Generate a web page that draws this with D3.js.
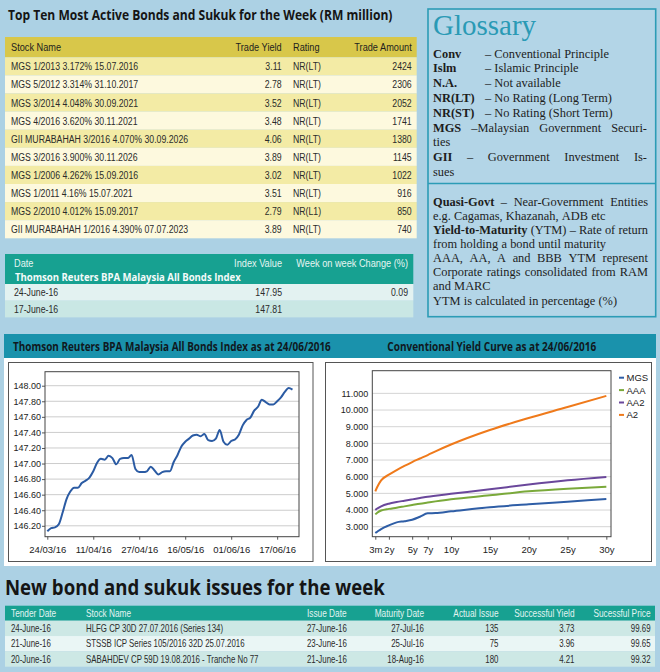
<!DOCTYPE html>
<html><head><meta charset="utf-8">
<script src="https://cdn.jsdelivr.net/npm/d3@7"></script>
<style>html,body{margin:0;padding:0;background:#acd1e4;}svg{display:block}</style>
</head><body><svg id="c" width="660" height="672"></svg>
<script>
// ---------- DATA ----------
const topStocks = ["MGS 1/2013 3.172% 15.07.2016","MGS 5/2012 3.314% 31.10.2017","MGS 3/2014 4.048% 30.09.2021","MGS 4/2016 3.620% 30.11.2021","GII MURABAHAH 3/2016 4.070% 30.09.2026","MGS 3/2016 3.900% 30.11.2026","MGS 1/2006 4.262% 15.09.2016","MGS 1/2011 4.16% 15.07.2021","MGS 2/2010 4.012% 15.09.2017","GII MURABAHAH 1/2016 4.390% 07.07.2023"];
const topYields = ["3.11","2.78","3.52","3.48","4.06","3.89","3.02","3.51","2.79","3.89"];
const topRatings = ["NR(LT)","NR(LT)","NR(LT)","NR(LT)","NR(LT)","NR(LT)","NR(LT)","NR(LT)","NR(L1)","NR(LT)"];
const topAmounts = ["2424","2306","2052","1741","1380","1145","1022","916","850","740"];
const topHeaders = ["Stock Name","Trade Yield","Rating","Trade Amount"];

const indexDates = ["24-June-16","17-June-16"];
const indexValues = ["147.95","147.81"];
const indexChanges = ["0.09",""];

const glossTerms = ["Conv","Islm","N.A.","NR(LT)","NR(ST)"];
const glossDefs = ["– Conventional Principle","– Islamic Principle","– Not available","– No Rating (Long Term)","– No Rating (Short Term)"];

const bpaTickLabels = ["24/03/16","11/04/16","27/04/16","16/05/16","01/06/16","17/06/16"];
const bpaYTicks = [146.2,146.4,146.6,146.8,147.0,147.2,147.4,147.6,147.8,148.0];
const bpaValues = [146.13,146.17,146.18,146.22,146.37,146.54,146.64,146.69,146.69,146.75,
  146.78,146.82,146.90,147.01,147.06,147.05,147.10,147.07,146.99,147.06,
  147.07,147.07,147.11,146.93,146.89,146.89,146.90,146.96,146.91,146.86,
  146.89,146.90,146.90,147.02,147.11,147.22,147.28,147.32,147.36,147.37,
  147.35,147.38,147.30,147.29,147.32,147.43,147.28,147.24,147.29,147.31,
  147.37,147.49,147.56,147.59,147.68,147.73,147.82,147.79,147.76,147.76,
  147.80,147.85,147.92,147.97,147.95];

const tenors = [0.25,0.5,1,2,3,4,5,6,7,8,10,15,20,25,30];
const tenorTicks = [0.25,2,5,7,10,15,20,25,30];
const tenorTickLabels = ["3m","2y","5y","7y","10y","15y","20y","25y","30y"];
const yieldYTicks = [3,4,5,6,7,8,9,10,11];
const seriesNames = ["MGS","AAA","AA2","A2"];
const seriesColors = ["#2f5ea6","#7aa93a","#6a479b","#ef7a1b"];
const mgsYield = [2.62,2.70,2.86,3.08,3.26,3.33,3.42,3.60,3.80,3.82,3.92,4.17,4.34,4.50,4.66];
const aaaYield = [3.74,3.84,3.97,4.07,4.14,4.22,4.30,4.38,4.45,4.52,4.65,4.88,5.12,5.28,5.40];
const aa2Yield = [4.00,4.09,4.22,4.38,4.48,4.56,4.64,4.72,4.80,4.86,4.97,5.24,5.53,5.78,5.98];
const a2Yield  = [5.12,5.38,5.78,6.12,6.40,6.65,6.88,7.09,7.30,7.52,7.93,8.80,9.52,10.18,10.85];

const issueHeaders = ["Tender Date","Stock Name","Issue Date","Maturity Date","Actual Issue","Successful Yield","Sucessful Price"];
const issueTender = ["24-June-16","21-June-16","20-June-16"];
const issueStock = ["HLFG CP 30D 27.07.2016 (Series 134)","STSSB ICP Series 105/2016 32D 25.07.2016","SABAHDEV CP 59D 19.08.2016 - Tranche No 77"];
const issueDate = ["27-June-16","23-June-16","21-June-16"];
const issueMaturity = ["27-Jul-16","25-Jul-16","18-Aug-16"];
const issueActual = ["135","75","180"];
const issueYield = ["3.73","3.96","4.21"];
const issuePrice = ["99.69","99.65","99.32"];

// ---------- HELPERS ----------
const svg = d3.select("#c");
const SANS = "'Liberation Sans', Arial, sans-serif";
const HEAD = "'Open Sans', 'Noto Sans', sans-serif";
const SERIF = "'Liberation Serif', 'Times New Roman', serif";

function nt(p, x, y, s, o = {}) {
  return p.append("text")
    .attr("transform", `translate(${x},${y}) scale(${o.sx || 0.76},1)`)
    .attr("text-anchor", o.anchor || "start")
    .attr("font-family", SANS).attr("font-size", o.size || 11.5)
    .attr("font-weight", o.weight || "normal")
    .attr("fill", o.fill || "#2b2b2b").text(s);
}
// bold heading squeezed horizontally to a target width
function ht(p, x, y, s, len, size, fill) {
  const t = p.append("text").attr("x", 0).attr("y", 0)
    .attr("font-family", HEAD).attr("font-weight", "bold").attr("font-size", size)
    .attr("fill", fill || "#151515").text(s);
  const w = t.node().getComputedTextLength();
  t.attr("transform", `translate(${x},${y}) scale(${len / w},1)`);
  return t;
}
function justLine(p, x0, x1, y, words, justify, size) {
  const nodes = words.map(w => p.append("text").attr("y", y)
    .attr("font-family", SERIF).attr("font-size", size).attr("fill", "#1d1d1d")
    .attr("font-weight", w.b ? "bold" : "normal").text(w.t));
  const widths = nodes.map(n => n.node().getComputedTextLength());
  const total = d3.sum(widths);
  const gap = (justify && words.length > 1) ? (x1 - x0 - total) / (words.length - 1) : size * 0.26;
  let x = x0;
  nodes.forEach((n, i) => { n.attr("x", x); x += widths[i] + gap; });
}
function wordsOf(str, bold) {
  const arr = [];
  if (bold) arr.push({t: bold, b: true});
  str.split(" ").filter(s => s.length).forEach(s => arr.push({t: s, b: false}));
  return arr;
}

svg.append("rect").attr("width", 660).attr("height", 672).attr("fill", "#acd1e4");

// ---------- TOP TABLE ----------
ht(svg, 8, 20, "Top Ten Most Active Bonds and Sukuk for the Week (RM million)", 385, 14.5, "#151515");
const tX0 = 5, tX1 = 416.7, rowH = 18.1, rowTop = 57.3;
svg.append("rect").attr("x", tX0).attr("y", 37).attr("width", tX1 - tX0).attr("height", rowTop - 37).attr("fill", "#d8c74a");
const colStock = 11, colYield = 281.7, colRating = 293, colAmt = 411.7;
nt(svg, colStock, 51, topHeaders[0], {sx: 0.8, fill: "#1e1e1e"});
nt(svg, colYield, 51, topHeaders[1], {sx: 0.8, anchor: "end", fill: "#1e1e1e"});
nt(svg, colRating, 51, topHeaders[2], {sx: 0.8, fill: "#1e1e1e"});
nt(svg, colAmt, 51, topHeaders[3], {sx: 0.8, anchor: "end", fill: "#1e1e1e"});
topStocks.forEach((s, i) => {
  const y0 = rowTop + i * rowH;
  svg.append("rect").attr("x", tX0).attr("y", y0).attr("width", tX1 - tX0).attr("height", rowH)
    .attr("fill", i % 2 === 0 ? "#f3eba5" : "#fdf9de");
  const by = y0 + rowH / 2 + 4;
  nt(svg, colStock, by, s);
  nt(svg, colYield, by, topYields[i], {anchor: "end"});
  nt(svg, colRating, by, topRatings[i]);
  nt(svg, colAmt, by, topAmounts[i], {anchor: "end"});
});

// ---------- INDEX TABLE ----------
const iX1 = 413.3;
svg.append("rect").attr("x", tX0).attr("y", 254).attr("width", iX1 - tX0).attr("height", 30).attr("fill", "#17a191");
nt(svg, 14, 267, "Date", {fill: "#e6f5f2", sx: 0.8});
nt(svg, 282, 267, "Index Value", {fill: "#e6f5f2", anchor: "end", sx: 0.8});
nt(svg, 408, 267, "Week on week Change (%)", {fill: "#e6f5f2", anchor: "end", sx: 0.8});
ht(svg, 15, 281, "Thomson Reuters BPA Malaysia All Bonds Index", 226, 10.5, "#f4fbfa");
indexDates.forEach((d, i) => {
  const y0 = 284 + i * 16.7;
  svg.append("rect").attr("x", tX0).attr("y", y0).attr("width", iX1 - tX0).attr("height", 16.7)
    .attr("fill", i === 0 ? "#e3f2f1" : "#c9e7e4");
  const by = y0 + 8.35 + 4;
  nt(svg, 14, by, d);
  nt(svg, 282, by, indexValues[i], {anchor: "end"});
  if (indexChanges[i]) nt(svg, 408, by, indexChanges[i], {anchor: "end"});
});

// ---------- GLOSSARY ----------
const gx0 = 428, gx1 = 655.7;
svg.append("rect").attr("x", gx0).attr("y", 9).attr("width", gx1 - gx0).attr("height", 307.7)
  .attr("fill", "#b3d5e7").attr("stroke", "#2c9cb6").attr("stroke-width", 1.6);
svg.append("line").attr("x1", gx0).attr("x2", gx1).attr("y1", 183.5).attr("y2", 183.5)
  .attr("stroke", "#2c9cb6").attr("stroke-width", 1.6);
svg.append("text").attr("x", 433).attr("y", 35).attr("font-family", SERIF).attr("font-size", 29)
  .attr("fill", "#2a9ab5").text("Glossary");
const gSize = 12.4, gLH = 14.8, gB0 = 57.5, gL = 433, gR = 647;
glossTerms.forEach((t, i) => {
  const y = gB0 + i * gLH;
  svg.append("text").attr("x", gL).attr("y", y).attr("font-family", SERIF).attr("font-size", gSize)
    .attr("font-weight", "bold").attr("fill", "#1d1d1d").text(t);
  svg.append("text").attr("x", 485).attr("y", y).attr("font-family", SERIF).attr("font-size", gSize)
    .attr("fill", "#1d1d1d").text(glossDefs[i]);
});
justLine(svg, gL, gR, gB0 + 5 * gLH, wordsOf("–Malaysian Government Securi-", "MGS"), true, gSize);
justLine(svg, gL, gR, gB0 + 6 * gLH, wordsOf("ties"), false, gSize);
justLine(svg, gL, gR, gB0 + 7 * gLH, wordsOf("– Government Investment Is-", "GII"), true, gSize);
justLine(svg, gL, gR, gB0 + 8 * gLH, wordsOf("sues"), false, gSize);

const lowLines = [
  {b: "Quasi-Govt", t: "– Near-Government Entities", j: true},
  {b: null, t: "e.g. Cagamas, Khazanah, ADB etc", j: false},
  {b: "Yield-to-Maturity", t: "(YTM) – Rate of return", j: true},
  {b: null, t: "from holding a bond until maturity", j: false},
  {b: null, t: "AAA, AA, A and BBB YTM represent", j: true},
  {b: null, t: "Corporate ratings consolidated from RAM", j: true},
  {b: null, t: "and MARC", j: false},
  {b: null, t: "YTM is calculated in percentage (%)", j: false}
];
lowLines.forEach((l, i) => justLine(svg, gL, 648, 205.5 + i * 14.15, wordsOf(l.t, l.b), l.j, gSize));

// ---------- CHART SECTION ----------
svg.append("rect").attr("x", 4).attr("y", 334).attr("width", 652).attr("height", 24).attr("fill", "#1a92ac");
svg.append("rect").attr("x", 4).attr("y", 358).attr("width", 652).attr("height", 208).attr("fill", "#ffffff");
ht(svg, 13, 350.5, "Thomson Reuters BPA Malaysia All Bonds Index as at 24/06/2016", 318, 12, "#101820");
ht(svg, 387.3, 350.5, "Conventional Yield Curve as at 24/06/2016", 209, 12, "#101820");

svg.append("rect").attr("x", 8.5).attr("y", 362.5).attr("width", 304.5).attr("height", 199).attr("fill", "#fff").attr("stroke", "#555").attr("stroke-width", 1);
svg.append("rect").attr("x", 325.5).attr("y", 362.5).attr("width", 326).attr("height", 199).attr("fill", "#fff").attr("stroke", "#555").attr("stroke-width", 1);

// left chart: BPA index
const xB = d3.scaleLinear().domain([-0.6, 65.7]).range([45, 299]);
const yB = d3.scaleLinear().domain([146.06, 148.18]).range([536.7, 371.7]);
const gB = svg.append("g");
gB.selectAll("line.grid").data(bpaYTicks).join("line")
  .attr("x1", xB.range()[0]).attr("x2", xB.range()[1])
  .attr("y1", d => yB(d)).attr("y2", d => yB(d))
  .attr("stroke", "#cccccc").attr("stroke-width", 1);
const axYB = gB.append("g").attr("transform", `translate(${xB.range()[0]},0)`)
  .call(d3.axisLeft(yB).tickValues(bpaYTicks).tickSize(3).tickPadding(1).tickFormat(d3.format(".2f")));
const bpaTickIdx = bpaTickLabels.map((d, i) => i * 12);
const axXB = gB.append("g").attr("transform", `translate(0,${yB.range()[0]})`)
  .call(d3.axisBottom(xB).tickValues(bpaTickIdx).tickSize(3).tickPadding(7).tickFormat((d, i) => bpaTickLabels[i]));
[axYB, axXB].forEach(a => {
  a.select(".domain").remove();
  a.selectAll(".tick line").attr("stroke", "#555");
  a.selectAll("text").attr("font-family", SANS).attr("fill", "#222");
});
axYB.selectAll("text").attr("font-size", 9);
axXB.selectAll("text").attr("font-size", 9.5);
gB.append("rect").attr("x", 45).attr("y", 371.7).attr("width", 254).attr("height", 165)
  .attr("fill", "none").attr("stroke", "#444").attr("stroke-width", 1);
gB.append("path").datum(bpaValues)
  .attr("d", d3.line().x((d, i) => xB(i)).y(d => yB(d)).curve(d3.curveMonotoneX))
  .attr("fill", "none").attr("stroke", "#2b5ba3").attr("stroke-width", 2);

// right chart: yield curve
const xY = d3.scaleLinear().domain([-0.136, 30.6]).range([372.3, 611]);
const yY = d3.scaleLinear().domain([2.4, 12.36]).range([536.7, 370.7]);
const gY = svg.append("g");
gY.selectAll("line.grid").data(yieldYTicks).join("line")
  .attr("x1", xY.range()[0]).attr("x2", xY.range()[1])
  .attr("y1", d => yY(d)).attr("y2", d => yY(d))
  .attr("stroke", "#d4d4d4").attr("stroke-width", 1);
const axYY = gY.append("g").attr("transform", `translate(${xY.range()[0]},0)`)
  .call(d3.axisLeft(yY).tickValues(yieldYTicks).tickSize(0).tickPadding(4).tickFormat(d3.format(".3f")));
const axXY = gY.append("g").attr("transform", `translate(0,${yY.range()[0]})`)
  .call(d3.axisBottom(xY).tickValues(tenorTicks).tickSize(3).tickPadding(7).tickFormat((d, i) => tenorTickLabels[i]));
[axYY, axXY].forEach(a => {
  a.select(".domain").remove();
  a.selectAll(".tick line").attr("stroke", "#555");
  a.selectAll("text").attr("font-family", SANS).attr("fill", "#222");
});
axYY.selectAll("text").attr("font-size", 9);
axXY.selectAll("text").attr("font-size", 9.5);
gY.append("rect").attr("x", 372.3).attr("y", 370.7).attr("width", 238.7).attr("height", 166)
  .attr("fill", "none").attr("stroke", "#444").attr("stroke-width", 1);
const allSeries = [mgsYield, aaaYield, aa2Yield, a2Yield];
const yLine = d3.line().x((d, i) => xY(tenors[i])).y(d => yY(d)).curve(d3.curveMonotoneX);
allSeries.forEach((s, k) => {
  gY.append("path").datum(s).attr("d", yLine)
    .attr("fill", "none").attr("stroke", seriesColors[k]).attr("stroke-width", 2);
});
seriesNames.forEach((n, k) => {
  const y = 377.7 + k * 12.4;
  gY.append("line").attr("x1", 619).attr("x2", 624).attr("y1", y).attr("y2", y)
    .attr("stroke", seriesColors[k]).attr("stroke-width", 2);
  gY.append("text").attr("x", 626.5).attr("y", y + 3.4).attr("font-family", SANS)
    .attr("font-size", 9.5).attr("fill", "#222").text(n);
});

// ---------- BOTTOM TABLE ----------
ht(svg, 5, 595, "New bond and sukuk issues for the week", 380, 21, "#151515");
const bX0 = 5, bX1 = 655;
svg.append("rect").attr("x", bX0).attr("y", 605.7).attr("width", bX1 - bX0).attr("height", 15).attr("fill", "#17a191");
const bCols = [
  {x: 11, a: "start"}, {x: 86, a: "start"}, {x: 307, a: "start"}, {x: 424, a: "end"},
  {x: 498.5, a: "end"}, {x: 574.5, a: "end"}, {x: 650.5, a: "end"}
];
issueHeaders.forEach((h, c) => nt(svg, bCols[c].x, 617, h, {anchor: bCols[c].a, size: 10.5, sx: 0.79, fill: "#e3f4f1"}));
const bRowH = 15.33;
issueTender.forEach((d, i) => {
  const y0 = 620.7 + i * bRowH;
  svg.append("rect").attr("x", bX0).attr("y", y0).attr("width", bX1 - bX0).attr("height", bRowH)
    .attr("fill", i % 2 === 0 ? "#cde8e5" : "#eaf6f5");
  const by = y0 + bRowH / 2 + 3.7;
  const vals = [d, issueStock[i], issueDate[i], issueMaturity[i], issueActual[i], issueYield[i], issuePrice[i]];
  vals.forEach((v, c) => nt(svg, bCols[c].x, by, v, {anchor: bCols[c].a, size: 10.5, sx: 0.75}));
});
</script></body></html>
